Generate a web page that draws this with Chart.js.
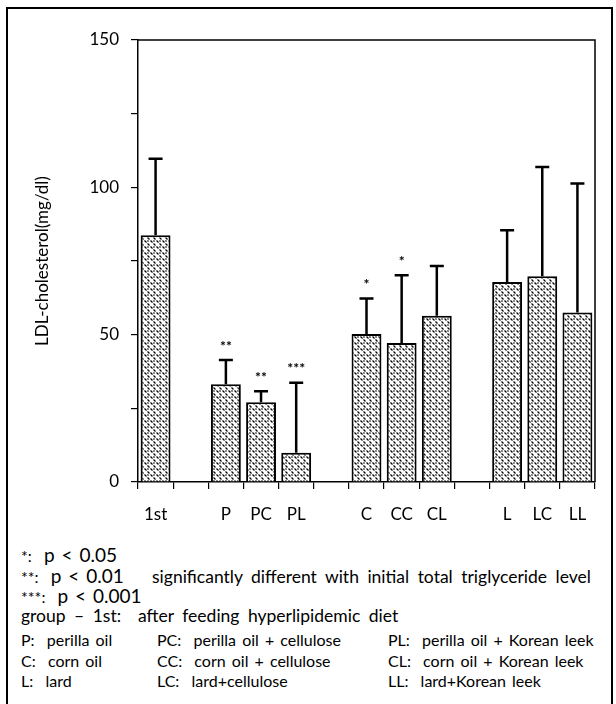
<!DOCTYPE html>
<html>
<head>
<meta charset="utf-8">
<script src="https://cdn.jsdelivr.net/npm/chart.js@4"></script>
<style>
html, body { margin: 0; padding: 0; background: #fff; }
body { width: 616px; height: 704px; position: relative; overflow: hidden; font-family: Lato, "Open Sans", sans-serif; color: #000; }
#frame { position: absolute; left: 6px; top: 7px; width: 607px; height: 760px; border: 2px solid #000; box-sizing: border-box; }
#wrap { position: absolute; left: 0; top: 0; width: 616px; height: 540px; }
.note { position: absolute; font-size: 16px; line-height: 21px; white-space: pre; word-spacing: 2px; }
.wide { font-size: 17.5px; word-spacing: 4px; }
.big { font-size: 19px; word-spacing: 2px; }
</style>
</head>
<body>
<div id="frame"></div>
<div id="wrap"><canvas id="ldl-chart"></canvas></div>

<div class="note" style="left:21px; top:544px">*:  <span class="big">p &lt; 0.05</span></div>
<div class="note" style="left:21px; top:565px">**:  <span class="big">p &lt; 0.01</span></div>
<div class="note wide" style="left:152px; top:566px">significantly different with initial total triglyceride level</div>
<div class="note" style="left:21px; top:585px">***:  <span class="big">p &lt; 0.001</span></div>
<div class="note wide" style="left:21px; top:605px">group – 1st:  after feeding hyperlipidemic diet</div>
<div class="note" style="left:21px; top:629px">P:  perilla oil</div>
<div class="note" style="left:157px; top:629px">PC:  perilla oil + cellulose</div>
<div class="note" style="left:388px; top:629px">PL:  perilla oil + Korean leek</div>
<div class="note" style="left:21px; top:650px">C:  corn oil</div>
<div class="note" style="left:157px; top:650px">CC:  corn oil + cellulose</div>
<div class="note" style="left:388px; top:650px">CL:  corn oil + Korean leek</div>
<div class="note" style="left:21px; top:670px">L:  lard</div>
<div class="note" style="left:157px; top:670px">LC:  lard+cellulose</div>
<div class="note" style="left:388px; top:670px">LL:  lard+Korean leek</div>

<script>
// groups, with empty slots between them
const groups = ['1st', '', 'P', 'PC', 'PL', '', 'C', 'CC', 'CL', '', 'L', 'LC', 'LL'];
const ldlMean = [83.7, null, 33.2, 27.1, 9.9, null, 50.2, 47.2, 56.4, null, 67.9, 69.8, 57.5];
const ldlSD = [26.0, null, 8.2, 3.7, 23.8, null, 12.1, 23.0, 16.9, null, 17.5, 37.1, 43.8];
const signif = ['', '', '**', '**', '***', '', '*', '*', '', '', '', '', ''];
const yTicks = [0, 50, 100, 150];

// dotted hatch fill for the bars
function makePattern() {
	const c = document.createElement('canvas');
	c.width = 6;
	c.height = 6;
	const p = c.getContext('2d');
	p.fillStyle = '#fff';
	p.fillRect(0, 0, 6, 6);
	p.strokeStyle = '#000';
	p.lineWidth = 1.2;
	p.beginPath();
	p.moveTo(0.5, 0.5); p.lineTo(2.5, 2.5);
	p.moveTo(3.5, 3.5); p.lineTo(5.5, 5.5);
	p.moveTo(3.5, 0.5); p.lineTo(4.5, 1.5);
	p.stroke();
	return p.createPattern(c, 'repeat');
}

const errorBars = {
	id: 'errorBars',
	afterDatasetsDraw(chart) {
		const ctx = chart.ctx;
		const y = chart.scales.y;
		const meta = chart.getDatasetMeta(0);
		ctx.save();
		ctx.strokeStyle = '#000';
		ctx.lineWidth = 2.5;
		ctx.fillStyle = '#000';
		ctx.font = 'bold 14px Lato';
		ctx.textAlign = 'center';
		ctx.textBaseline = 'middle';
		meta.data.forEach((bar, i) => {
			if (ldlMean[i] == null) return;
			const top = y.getPixelForValue(ldlMean[i] + ldlSD[i]);
			ctx.beginPath();
			ctx.moveTo(bar.x, bar.y);
			ctx.lineTo(bar.x, top);
			ctx.moveTo(bar.x - 7, top);
			ctx.lineTo(bar.x + 7, top);
			ctx.stroke();
			if (signif[i]) ctx.fillText(signif[i], bar.x, top - 14);
		});
		ctx.restore();
	}
};

// top and right edges of the plot box
const plotBox = {
	id: 'plotBox',
	afterDraw(chart) {
		const a = chart.chartArea;
		const ctx = chart.ctx;
		ctx.save();
		ctx.strokeStyle = '#000';
		ctx.lineWidth = 1.5;
		ctx.beginPath();
		ctx.moveTo(a.left, a.top);
		ctx.lineTo(a.right, a.top);
		ctx.lineTo(a.right, a.bottom);
		ctx.stroke();
		ctx.restore();
	}
};

const ctx = document.getElementById('ldl-chart').getContext('2d');

const ldlChart = new Chart(ctx, {
	type: 'bar',
	data: {
		labels: groups,
		datasets: [{
			label: 'LDL-cholesterol',
			data: ldlMean,
			backgroundColor: makePattern(),
			borderColor: '#000',
			borderWidth: 2,
			barPercentage: 0.85,
			categoryPercentage: 1,
		}],
	},
	options: {
		responsive: true,
		maintainAspectRatio: false,
		animation: false,
		layout: { padding: { left: 28, right: 21, top: 40, bottom: 0 } },
		plugins: { legend: { display: false }, tooltip: { enabled: false } },
		scales: {
			x: {
				afterFit(scale) { scale.height = 58; },
				grid: { offset: true, drawOnChartArea: false, tickLength: 7, color: '#000', lineWidth: 1.2 },
				border: { color: '#000', width: 1.5 },
				ticks: { color: '#000', font: { family: 'Lato', size: 17 }, padding: 15, maxRotation: 0, autoSkip: false },
			},
			y: {
				min: 0,
				max: 150,
				afterFit(scale) { scale.width = 110; },
				afterBuildTicks(scale) {
					scale.ticks = [0, 25, 50, 75, 100, 125, 150].map(v => ({ value: v }));
				},
				grid: { drawOnChartArea: false, tickLength: 7, color: '#000', lineWidth: 1.2 },
				border: { color: '#000', width: 1.5 },
				ticks: {
					color: '#000',
					font: { family: 'Lato', size: 17 },
					padding: 12,
					callback: v => yTicks.includes(v) ? v : '',
				},
				title: { display: true, text: 'LDL-cholesterol(mg/dl)', color: '#000', font: { family: 'Lato', size: 17 } },
			},
		},
	},
	plugins: [errorBars, plotBox],
});
</script>
</body>
</html>
